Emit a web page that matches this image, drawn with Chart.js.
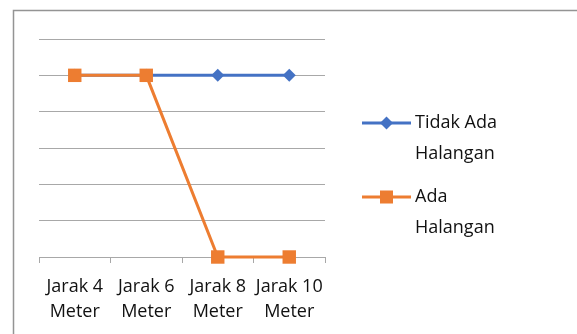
<!DOCTYPE html>
<html>
<head>
<meta charset="utf-8">
<script src="https://cdn.jsdelivr.net/npm/chart.js@4/dist/chart.umd.min.js"></script>
<style>
  html, body { margin: 0; padding: 0; background: #fff; }
  #wrap { width: 577px; height: 334px; position: relative; }
</style>
</head>
<body>
<div id="wrap"><canvas id="c" width="577" height="334"></canvas></div>
<script>
// Categories and series
const categories = [['Jarak 4', 'Meter'], ['Jarak 6', 'Meter'], ['Jarak 8', 'Meter'], ['Jarak 10', 'Meter']];
const tidakAdaHalangan = [5, 5, 5, 5];
const adaHalangan = [5, 5, 0, 0];
const seriesNames = [['Tidak Ada', 'Halangan'], ['Ada', 'Halangan']];

const BLUE = '#4472C4';
const ORANGE = '#ED7D31';
const GRID = '#a8a8a8';
const TEXT = '#111111';
const FONT = '"Open Sans", "Noto Sans", sans-serif';

// Frame around the chart and the legend at the right
const decorations = {
  id: 'decorations',
  afterDraw(chart) {
    const ctx = chart.ctx;
    ctx.save();
    ctx.strokeStyle = '#949494';
    ctx.lineWidth = 1.5;
    ctx.strokeRect(13.5, 10.5, 700, 400);

    const entries = [
      { color: BLUE, shape: 'diamond', y: 123, lines: seriesNames[0] },
      { color: ORANGE, shape: 'square', y: 197, lines: seriesNames[1] }
    ];
    entries.forEach(e => {
      ctx.strokeStyle = e.color;
      ctx.lineWidth = 3;
      ctx.beginPath();
      ctx.moveTo(362, e.y);
      ctx.lineTo(411, e.y);
      ctx.stroke();
      ctx.fillStyle = e.color;
      const cx = 386.5;
      if (e.shape === 'diamond') {
        ctx.beginPath();
        ctx.moveTo(cx, e.y - 6.5);
        ctx.lineTo(cx + 6.5, e.y);
        ctx.lineTo(cx, e.y + 6.5);
        ctx.lineTo(cx - 6.5, e.y);
        ctx.closePath();
        ctx.fill();
      } else {
        ctx.fillRect(cx - 6.5, e.y - 6.5, 13, 13);
      }
      ctx.fillStyle = TEXT;
      ctx.font = '18px ' + FONT;
      ctx.textBaseline = 'middle';
      ctx.textAlign = 'left';
      e.lines.forEach((t, i) => ctx.fillText(t, 415, e.y + i * 30.5));
    });
    ctx.restore();
  }
};

new Chart(document.getElementById('c'), {
  type: 'line',
  data: {
    labels: categories,
    datasets: [
      {
        label: 'Tidak Ada Halangan',
        data: tidakAdaHalangan,
        borderColor: BLUE,
        backgroundColor: BLUE,
        borderWidth: 3,
        pointStyle: 'rectRot',
        pointRadius: 6.5,
        pointHoverRadius: 6.5,
        pointBorderWidth: 0,
        tension: 0,
        clip: false,
        order: 2
      },
      {
        label: 'Ada Halangan',
        data: adaHalangan,
        borderColor: ORANGE,
        backgroundColor: ORANGE,
        borderWidth: 3,
        pointStyle: 'rect',
        pointRadius: 9.5,
        pointHoverRadius: 9.5,
        pointBorderWidth: 0,
        tension: 0,
        clip: false,
        order: 1
      }
    ]
  },
  options: {
    responsive: false,
    animation: false,
    events: [],
    layout: { padding: { left: 39, right: 252, top: 39, bottom: 0 } },
    plugins: { legend: { display: false }, tooltip: { enabled: false } },
    scales: {
      x: {
        offset: true,
        grid: {
          offset: true,
          drawOnChartArea: false,
          drawTicks: true,
          tickLength: 6,
          color: GRID,
          lineWidth: 1
        },
        border: { display: true, color: GRID, width: 1 },
        ticks: {
          color: TEXT,
          font: { family: FONT, size: 18, lineHeight: 1.4 },
          padding: 11,
          maxRotation: 0,
          autoSkip: false
        },
        afterFit(s) { s.height = 77; }
      },
      y: {
        min: 0,
        max: 6,
        ticks: { display: false, stepSize: 1 },
        grid: { color: GRID, lineWidth: 1, drawTicks: false },
        border: { display: false },
        afterFit(s) { s.width = 0; }
      }
    }
  },
  plugins: [decorations]
});
</script>
</body>
</html>
